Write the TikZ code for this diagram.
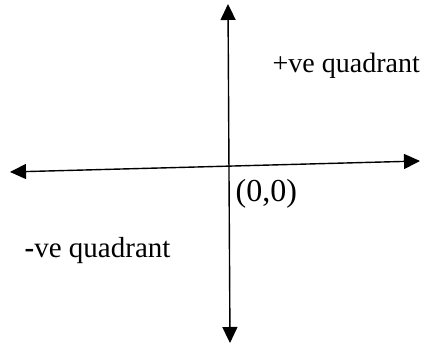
\documentclass[tikz,border=0pt]{standalone}
\usepackage{fontspec}
\setmainfont{Liberation Serif}
\usetikzlibrary{arrows.meta, positioning}

\begin{document}
\begin{tikzpicture}[x=1pt, y=1pt, <->, >={Triangle[length=16pt,width=15pt]}, line width=1.4pt]
\tikzstyle{quad}=[inner sep=0pt, anchor=base west, font=\fontsize{28}{30}\selectfont]

\useasboundingbox (0,0) rectangle (427,344);

\coordinate (L) at (10,172);
\coordinate (R) at (420,183);
\coordinate (T) at (228,340);
\coordinate (B) at (230,1);

\draw (L) -- (R);
\draw (T) -- (B);

\node[quad] (pos) at (272,271) {+ve quadrant};
\node[quad, font=\fontsize{29}{31}\selectfont] (neg) at (24,86) {\textbf{-}ve quadrant};
\node[quad, font=\fontsize{32}{34}\selectfont] (origin) at (235,142) {(0,0)};
\end{tikzpicture}
\end{document}
